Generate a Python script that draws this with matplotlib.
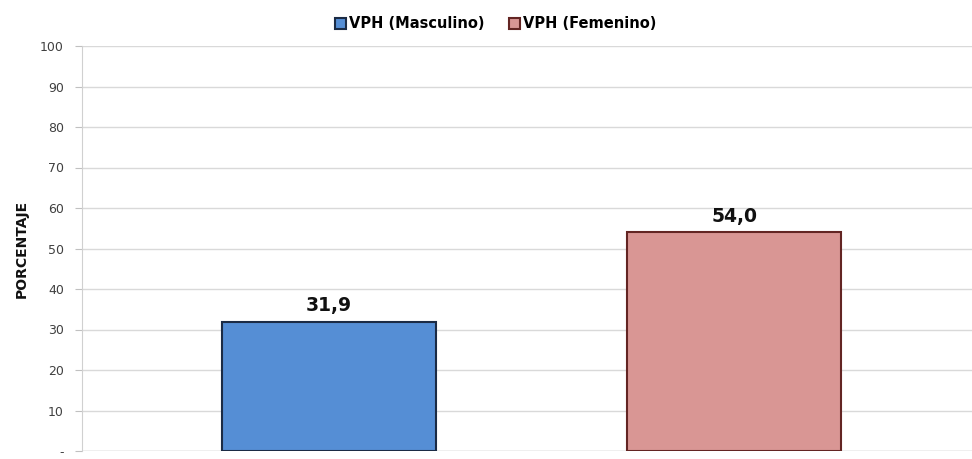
import matplotlib
matplotlib.use("Agg")
import matplotlib.pyplot as plt
from matplotlib.ticker import FixedLocator

series = ["VPH (Masculino)", "VPH (Femenino)"]
values = [31.9, 54.0]
value_labels = ["31,9", "54,0"]
yticks = [0, 10, 20, 30, 40, 50, 60, 70, 80, 90, 100]
ytick_labels = ["-", "10", "20", "30", "40", "50", "60", "70", "80", "90", "100"]
colors = ["#558ED5", "#D99694"]
edges = ["#1B2B45", "#632523"]

fig = plt.figure(figsize=(9.72, 4.59), dpi=100)
ax = fig.add_axes([82/972, 1-451/459, (972-82)/972, (451-46)/459])

positions = list(range(len(series)))
for i, (name, v) in enumerate(zip(series, values)):
    ax.bar(positions[i], v, width=0.528, color=colors[i], edgecolor=edges[i],
           linewidth=1.5, label=name, zorder=3)
    ax.text(positions[i], v + 1.6, value_labels[i], ha="center", va="bottom",
            fontsize=13.5, fontweight="bold", color="#111111", zorder=4)

ax.set_xlim(-0.609, 1.586)
ax.set_ylim(0, 100)
ax.yaxis.set_major_locator(FixedLocator(yticks))
ax.set_yticklabels(ytick_labels, fontsize=9, color="#404040")
ax.set_xticks([])
ax.grid(axis="y", color="#d9d9d9", linewidth=1.0, zorder=0)
for s in ["top", "right", "bottom"]:
    ax.spines[s].set_visible(False)
ax.spines["left"].set_color("#d0d0d0")
ax.tick_params(axis="y", length=5, color="#c0c0c0", pad=8)
ax.axhline(0, color="#d0d0d0", linewidth=1.0, zorder=1)

ax.set_ylabel("PORCENTAJE", fontsize=10, fontweight="bold", color="#111111")
ax.yaxis.set_label_coords((29 - 82) / 890, 0.5)

fig.legend(loc="center", bbox_to_anchor=(496/972, 1-24/459), ncol=2, frameon=False,
           prop={"weight": "bold", "size": 10.5}, handlelength=0.75,
           handleheight=0.75, handletextpad=0.2, columnspacing=1.7)

fig.savefig("out.png", dpi=100)
